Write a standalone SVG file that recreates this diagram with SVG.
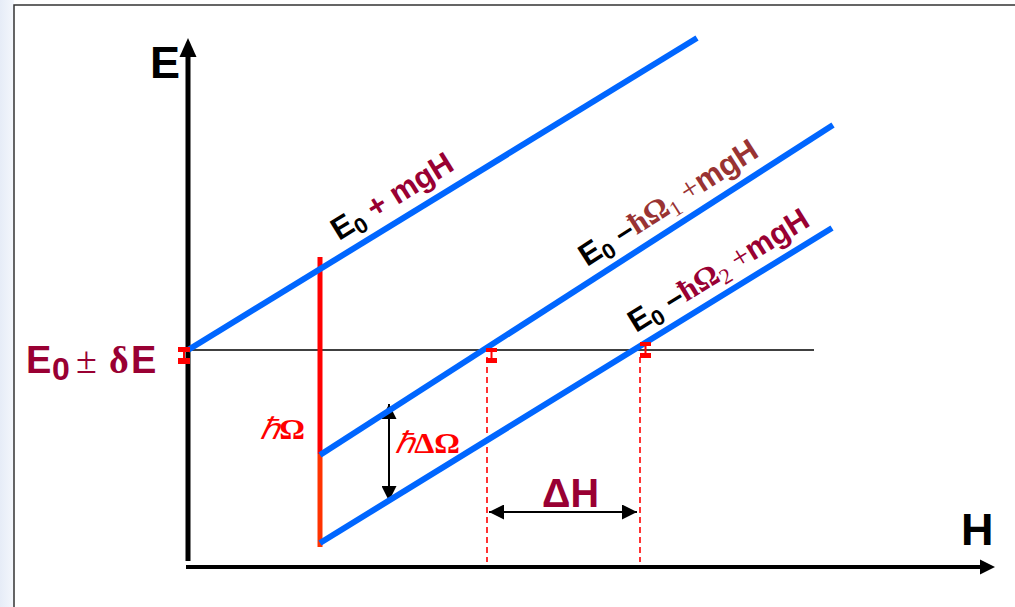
<svg xmlns="http://www.w3.org/2000/svg" width="1015" height="607" viewBox="0 0 1015 607">
<defs>
<linearGradient id="bg" x1="0" y1="0" x2="1" y2="0">
<stop offset="0" stop-color="#e6ecf7"/>
<stop offset="1" stop-color="#f4f7fc"/>
</linearGradient>
<marker id="ah" viewBox="0 0 10 10" refX="10" refY="5" markerWidth="8" markerHeight="7.5" markerUnits="strokeWidth" orient="auto-start-reverse">
<path d="M0,0 L10,5 L0,10 Z" fill="#000"/>
</marker>
</defs>
<style>
.sans{font-family:"Liberation Sans",Arial,sans-serif;font-weight:bold}
.serif{font-family:"Liberation Serif","Times New Roman",serif}
.blue{stroke:#0066ff;stroke-width:6;fill:none}
.dash{stroke:#ff0000;stroke-width:1.6;stroke-dasharray:6,4;fill:none}
.eb{fill:#ff0000}
.maroon{fill:#990033}
.brown{fill:#993333}
</style>
<rect x="0" y="0" width="1015" height="607" fill="#fff"/>
<rect x="0" y="0" width="14" height="607" fill="url(#bg)"/>
<rect x="14" y="5" width="1010" height="620" fill="#fff" stroke="#333" stroke-width="1.5"/>

<g id="connectors">
<line id="dash1" class="dash" x1="487" y1="357" x2="487" y2="562"/>
<line id="dash2" class="dash" x1="640" y1="357" x2="640" y2="562"/>
<line id="ref-line" x1="188" y1="350" x2="814" y2="350" stroke="#000" stroke-width="1.5"/>
<line id="dH-arrow" x1="489" y1="512" x2="637" y2="512" stroke="#000" stroke-width="2" marker-start="url(#ah)" marker-end="url(#ah)"/>
<line id="dO-arrow" x1="389" y1="404" x2="389" y2="501" stroke="#000" stroke-width="2" marker-start="url(#ah)" marker-end="url(#ah)"/>
</g>

<g id="axis-E">
<line x1="188" y1="561" x2="188" y2="50" stroke="#000" stroke-width="5"/>
<path d="M179.5,57 L188,38 L196.5,57 Z" fill="#000"/>
<text class="sans" x="150" y="78" font-size="45">E</text>
</g>
<g id="axis-H">
<line x1="186" y1="567" x2="985" y2="567" stroke="#000" stroke-width="4"/>
<path d="M980,559.5 L995,567 L980,574.5 Z" fill="#000"/>
<text class="sans" x="961" y="545" font-size="45">H</text>
</g>

<g id="red-bar">
<line x1="320" y1="257" x2="320" y2="454" stroke="#ff0000" stroke-width="5"/>
<line x1="320" y1="454" x2="320" y2="547" stroke="#ff3300" stroke-width="5"/>
<text x="260" y="439" font-size="30" fill="#ff0000" textLength="45" lengthAdjust="spacingAndGlyphs"><tspan class="serif" font-style="italic">ℏ</tspan><tspan class="serif" font-weight="bold">Ω</tspan></text>
</g>

<g id="level-1">
<line class="blue" x1="188" y1="350" x2="697" y2="38"/>
<text class="sans" font-size="31" transform="translate(339,241) rotate(-31.6)"><tspan fill="#000">E</tspan><tspan fill="#000" font-size="22" dy="6">0</tspan><tspan class="maroon" dy="-6"> + mgH</tspan></text>
</g>
<g id="level-2">
<line class="blue" x1="320" y1="455" x2="833" y2="125"/>
<text class="sans" font-size="31" transform="translate(587,267) rotate(-32.7)"><tspan fill="#000">E</tspan><tspan fill="#000" font-size="22" dy="6">0</tspan><tspan fill="#000" dy="-6"> –</tspan><tspan class="serif brown" font-weight="bold">ħΩ</tspan><tspan class="serif brown" font-weight="normal" font-size="22" dy="6">1</tspan><tspan class="serif brown" font-weight="normal" dy="-6"> +</tspan><tspan class="brown">mgH</tspan></text>
</g>
<g id="level-3">
<line class="blue" x1="320" y1="543" x2="832" y2="228"/>
<text class="sans" font-size="31" transform="translate(636,333) rotate(-31.6)"><tspan fill="#000">E</tspan><tspan fill="#000" font-size="22" dy="6">0</tspan><tspan fill="#000" dy="-6"> –</tspan><tspan class="serif maroon" font-weight="bold">ħΩ</tspan><tspan class="serif maroon" font-weight="normal" font-size="22" dy="6">2</tspan><tspan class="serif maroon" font-weight="normal" dy="-6"> +</tspan><tspan class="maroon">mgH</tspan></text>
</g>

<g id="error-bars">
<path class="eb" d="M178,347 h12 v5 h-5 v6 h5 v6 h-12 v-6 h5 v-6 h-5 Z"/>
<path class="eb" d="M486,348 h11 v4 h-4.5 v6 h4.5 v5 h-11 v-5 h4.5 v-6 h-4.5 Z"/>
<path class="eb" d="M640,342 h11 v4 h-4.5 v7 h4.5 v5 h-11 v-5 h4.5 v-7 h-4.5 Z"/>
</g>

<g id="label-E0dE">
<text class="sans maroon" x="26" y="373" font-size="38">E</text>
<text class="sans maroon" x="52" y="380" font-size="32">0</text>
<text class="serif maroon" x="76" y="373" font-size="38">±</text>
<text class="serif maroon" x="109" y="373" font-size="38" font-weight="bold">δ</text>
<text class="sans maroon" x="131" y="373" font-size="38">E</text>
</g>

<g id="label-dO">
<text x="395" y="453" font-size="30" fill="#ff0000" textLength="65" lengthAdjust="spacingAndGlyphs"><tspan class="serif" font-style="italic">ℏ</tspan><tspan class="serif" font-weight="bold">ΔΩ</tspan></text>
</g>
<g id="label-dH">
<text class="sans maroon" x="542" y="507" font-size="40" textLength="57" lengthAdjust="spacingAndGlyphs">ΔH</text>
</g>
</svg>
